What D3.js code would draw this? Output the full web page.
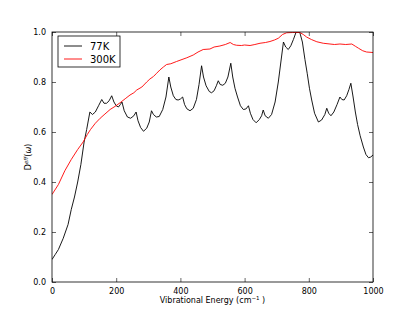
<!DOCTYPE html>
<html>
<head>
<meta charset="utf-8">
<script src="https://cdn.jsdelivr.net/npm/d3@7"></script>
<style>
  body { margin: 0; background: #fff; }
  text { font-family: "DejaVu Sans", sans-serif; }
</style>
</head>
<body>
<svg width="415" height="313"></svg>
<script>
// 77K spectrum: [energy cm^-1, D_eff]
var cold = [
  [0, 0.09], [10, 0.11], [20, 0.13], [35, 0.175], [50, 0.23], [60, 0.29], [70, 0.34],
  [80, 0.40], [90, 0.47], [100, 0.56], [108, 0.61], [118, 0.68], [126, 0.67], [135, 0.68],
  [145, 0.705], [155, 0.73], [162, 0.715], [170, 0.715], [178, 0.725], [186, 0.745],
  [193, 0.72], [200, 0.705], [207, 0.70], [213, 0.71], [218, 0.72], [225, 0.685],
  [235, 0.66], [245, 0.655], [255, 0.665], [262, 0.68], [268, 0.645], [276, 0.618],
  [285, 0.603], [295, 0.615], [303, 0.64], [310, 0.685], [316, 0.67], [325, 0.66],
  [334, 0.662], [345, 0.69], [355, 0.74], [364, 0.82], [370, 0.78], [378, 0.745],
  [386, 0.73], [393, 0.728], [400, 0.732], [407, 0.74], [413, 0.71], [420, 0.693],
  [430, 0.685], [440, 0.695], [450, 0.73], [458, 0.79], [466, 0.865], [472, 0.82],
  [480, 0.785], [490, 0.762], [497, 0.757], [505, 0.765], [512, 0.785], [518, 0.805],
  [524, 0.79], [532, 0.787], [540, 0.795], [548, 0.82], [557, 0.875], [563, 0.82],
  [570, 0.775], [578, 0.74], [587, 0.705], [596, 0.69], [604, 0.692], [612, 0.705],
  [618, 0.675], [626, 0.65], [636, 0.637], [646, 0.65], [653, 0.665], [658, 0.688],
  [664, 0.665], [674, 0.655], [684, 0.67], [695, 0.72], [705, 0.8], [713, 0.88],
  [721, 0.96], [728, 0.94], [736, 0.93], [744, 0.945], [752, 0.97], [760, 0.998],
  [765, 1.0], [772, 0.998], [780, 0.96], [788, 0.89], [795, 0.835], [802, 0.775],
  [809, 0.728], [818, 0.675], [830, 0.64], [840, 0.648], [850, 0.67], [856, 0.695],
  [862, 0.675], [869, 0.665], [878, 0.68], [888, 0.71], [897, 0.74], [903, 0.73],
  [910, 0.728], [918, 0.745], [925, 0.77], [931, 0.795], [938, 0.74], [945, 0.68],
  [952, 0.63], [960, 0.585], [970, 0.54], [978, 0.51], [986, 0.497], [993, 0.5],
  [1000, 0.508]
]

// 300K spectrum
var warm = [
  [0, 0.35], [20, 0.39], [40, 0.445], [60, 0.49], [80, 0.53], [97, 0.56], [110, 0.59],
  [120, 0.61], [135, 0.635], [150, 0.655], [165, 0.672], [181, 0.69], [197, 0.703],
  [212, 0.717], [228, 0.733], [243, 0.748], [255, 0.757], [264, 0.768], [280, 0.78],
  [295, 0.80], [305, 0.812], [316, 0.822], [326, 0.835], [336, 0.848], [347, 0.86],
  [357, 0.87], [370, 0.873], [388, 0.882], [405, 0.89], [420, 0.897], [440, 0.908],
  [455, 0.92], [471, 0.93], [492, 0.932], [505, 0.94], [523, 0.944], [540, 0.95],
  [555, 0.958], [565, 0.95], [575, 0.947], [590, 0.946], [600, 0.948], [617, 0.946],
  [632, 0.95], [648, 0.955], [665, 0.958], [679, 0.962], [693, 0.968], [705, 0.975],
  [718, 0.99], [731, 0.997], [750, 0.998], [772, 0.998], [783, 0.99], [793, 0.98],
  [808, 0.97], [825, 0.961], [845, 0.955], [866, 0.952], [880, 0.95], [897, 0.952],
  [915, 0.95], [934, 0.952], [945, 0.943], [955, 0.935], [968, 0.925], [980, 0.92],
  [1000, 0.918]
]

var xTicks = [0, 200, 400, 600, 800, 1000]
var yTicks = [0, 0.2, 0.4, 0.6, 0.8, 1.0]
var series = [
  { name: '77K', color: '#000', data: cold },
  { name: '300K', color: '#ff0000', data: warm }
]

var svg = d3.select('svg')
var margin = { left: 52, right: 42, top: 32, bottom: 31 }
var width = +svg.attr('width')
var height = +svg.attr('height')

var x = d3.scaleLinear().domain([0, 1000]).range([margin.left, width - margin.right])
var y = d3.scaleLinear().domain([0, 1]).range([height - margin.bottom, margin.top])

var clip = svg.append('clipPath').attr('id', 'clip')
  .append('rect')
    .attr('x', x(0)).attr('y', y(1))
    .attr('width', x(1000) - x(0)).attr('height', y(0) - y(1))

var line = d3.line()
    .x(d => x(d[0]))
    .y(d => y(d[1]))

svg.append('g')
    .attr('clip-path', 'url(#clip)')
  .selectAll('path')
  .data(series)
  .enter().append('path')
    .attr('d', d => line(d.data))
    .attr('fill', 'none')
    .attr('stroke', d => d.color)
    .attr('stroke-width', 0.9)
    .attr('stroke-linejoin', 'round')

// ticks point inward on every side, like matplotlib classic
function axis (gen, tx, ty) {
  var g = svg.append('g').attr('transform', 'translate(' + tx + ',' + ty + ')').call(gen)
  g.select('.domain').remove()
  g.selectAll('line').attr('stroke', '#000').attr('stroke-width', 0.6)
  g.selectAll('text').attr('font-size', 8).attr('fill', '#000')
  return g
}

axis(d3.axisBottom(x).tickValues(xTicks).tickSizeInner(-4).tickSizeOuter(0).tickPadding(6)
  .tickFormat(d3.format('d')), 0, y(0))
axis(d3.axisTop(x).tickValues(xTicks).tickSizeInner(-4).tickSizeOuter(0)
  .tickFormat(''), 0, y(1))
axis(d3.axisLeft(y).tickValues(yTicks).tickSizeInner(-4).tickSizeOuter(0).tickPadding(6)
  .tickFormat(d3.format('.1f')), x(0), 0)
axis(d3.axisRight(y).tickValues(yTicks).tickSizeInner(-4).tickSizeOuter(0)
  .tickFormat(''), x(1000), 0)

svg.append('rect')
    .attr('x', x(0)).attr('y', y(1))
    .attr('width', x(1000) - x(0)).attr('height', y(0) - y(1))
    .attr('fill', 'none')
    .attr('stroke', '#000')
    .attr('stroke-width', 0.8)

// axis labels
var xl = svg.append('text')
    .attr('x', (x(0) + x(1000)) / 2)
    .attr('y', 303)
    .attr('text-anchor', 'middle')
    .attr('font-size', 8)
xl.append('tspan').text('Vibrational Energy (cm')
xl.append('tspan').attr('font-size', 5.5).attr('dy', -3.5).text('\u22121')
xl.append('tspan').attr('dy', 3.5).text(' )')

var yl = svg.append('text')
    .attr('transform', 'translate(31,' + (y(0.5)) + ') rotate(-90)')
    .attr('text-anchor', 'middle')
    .attr('font-size', 8)
yl.append('tspan').text('D')
yl.append('tspan').attr('font-size', 5.5).attr('dy', -3.5).attr('font-style', 'italic').text('eff')
yl.append('tspan').attr('dy', 3.5).text('(')
yl.append('tspan').attr('font-style', 'italic').text('\u03c9')
yl.append('tspan').text(')')

// legend
var lg = svg.append('g').attr('transform', 'translate(58,36)')
lg.append('rect')
    .attr('width', 62).attr('height', 31)
    .attr('fill', '#fff')
    .attr('stroke', '#000')
    .attr('stroke-width', 0.8)
var item = lg.selectAll('g.item')
  .data(series)
  .enter().append('g')
    .attr('class', 'item')
    .attr('transform', (d, i) => 'translate(0,' + (10 + i * 13) + ')')
item.append('line')
    .attr('x1', 6).attr('x2', 24)
    .attr('stroke', d => d.color)
    .attr('stroke-width', 0.9)
item.append('text')
    .attr('x', 32).attr('dy', '0.35em')
    .attr('font-size', 10)
    .text(d => d.name)
</script>
</body>
</html>
